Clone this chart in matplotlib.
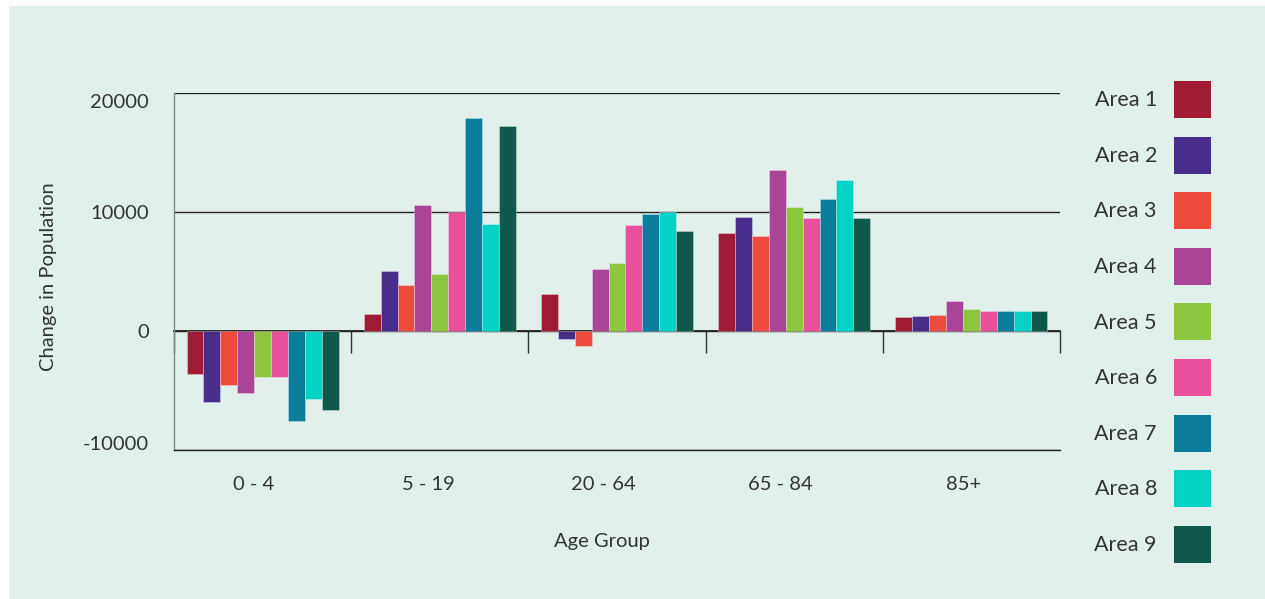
import numpy as np
import matplotlib.pyplot as plt
from matplotlib.patches import Rectangle
from matplotlib.transforms import ScaledTranslation

# ==============================
# Data
# ==============================
age_groups = ["0 - 4", "5 - 19", "20 - 64", "65 - 84", "85+"]
areas = ["Area 1", "Area 2", "Area 3", "Area 4", "Area 5",
         "Area 6", "Area 7", "Area 8", "Area 9"]

area_1 = [-3600, 1450, 3150, 8200, 1180]
area_2 = [-5950, 5050, -700, 9600, 1260]
area_3 = [-4550, 3850, -1250, 8000, 1370]
area_4 = [-5250, 10550, 5200, 13500, 2480]
area_5 = [-3900, 4750, 5750, 10400, 1880]
area_6 = [-3850, 10000, 8900, 9500, 1680]
area_7 = [-7550, 17900, 9850, 11100, 1680]
area_8 = [-5750, 8950, 10000, 12700, 1680]
area_9 = [-6650, 17200, 8400, 9500, 1680]

series = [area_1, area_2, area_3, area_4, area_5,
          area_6, area_7, area_8, area_9]

colors = ["#a01c35", "#482d8b", "#ef4b3c", "#a94496", "#8cc63f",
          "#ea4f9c", "#0a7d9a", "#03d2c4", "#10584c"]

# ==============================
# Style
# ==============================
plt.rcParams["font.family"] = ["Lato", "DejaVu Sans"]
plt.rcParams["font.size"] = 14.5
plt.rcParams["axes.unicode_minus"] = False
TXT = "#333333"
BG = "#e2f0eb"

fig = plt.figure(figsize=(12.65, 5.99), dpi=100, facecolor="white")
fig.patches.append(Rectangle((9 / 1265, 0), 1 - 9 / 1265, 1 - 6 / 599,
                             transform=fig.transFigure, facecolor=BG,
                             edgecolor="none", zorder=-10))

ax = fig.add_axes([174 / 1265, 1 - 450 / 599, 886 / 1265, 357 / 599])
ax.set_facecolor("none")

x = np.arange(len(age_groups))
n = len(series)
bar_w = 0.0953
for i, (vals, name, col) in enumerate(zip(series, areas, colors)):
    offs = (i - (n - 1) / 2) * bar_w
    ax.bar(x + offs, vals, width=bar_w, color=col, label=name,
           edgecolor=(1, 1, 1, 0.35), linewidth=0.6, zorder=3)

ax.set_xlim(-0.5, len(age_groups) - 0.5)
ax.set_ylim(-10000, 20000)

# horizontal rules
ax.set_yticks([-10000, 0, 10000, 20000])
ax.yaxis.grid(True, color="#222222", linewidth=1.0, zorder=1)
ax.set_axisbelow(True)

for s in ["top", "right"]:
    ax.spines[s].set_visible(False)
ax.spines["left"].set_color("#888888")
ax.spines["left"].set_linewidth(1.0)
ax.spines["bottom"].set_color("#222222")
ax.spines["bottom"].set_linewidth(1.0)

ax.tick_params(axis="y", length=0, pad=18, labelcolor=TXT, labelsize=14.5)
ax.set_xticks(x)
ax.set_xticklabels(age_groups)
ax.tick_params(axis="x", length=0, pad=19, labelcolor=TXT, labelsize=14.5)

# zero line with category separators
zero_ax = ax.secondary_xaxis(1 / 3)
zero_ax.set_xticks(np.arange(len(age_groups) + 1) - 0.5)
zero_ax.tick_params(axis="x", direction="out", length=15.5, width=1.0,
                    color="#333333", labelbottom=False, labeltop=False)
zero_ax.spines["bottom"].set_color("#111111")
zero_ax.spines["bottom"].set_linewidth(1.2)
zero_ax.spines["top"].set_visible(False)

ax.set_ylabel("Change in Population", color=TXT, fontsize=14.5)
ax.yaxis.set_label_coords(-0.132, 0.486)
ax.set_xlabel("Age Group", color=TXT, fontsize=14.5)
ax.xaxis.set_label_coords(0.483, -0.232)

fs = 15.5
px = fs * 100 / 72
hh = (37 / px - 0.245) / 0.65
leg = fig.legend(loc="upper right", bbox_to_anchor=(1211 / 1265, 1 - 81 / 599),
                 frameon=False, markerfirst=False, fontsize=fs,
                 handlelength=37 / px, handleheight=hh,
                 labelspacing=(55.6 - 37) / px, handletextpad=17 / px,
                 borderpad=0, borderaxespad=0)
for t in leg.get_texts():
    t.set_color(TXT)
for h in leg.legend_handles:
    h.set_edgecolor("none")

# keep the end labels of the value axis inside the plot band
fig.canvas.draw()
ylabels = ax.get_yticklabels()
ylabels[0].set_transform(ylabels[0].get_transform()
                         + ScaledTranslation(0, 7 / 100, fig.dpi_scale_trans))
ylabels[-1].set_transform(ylabels[-1].get_transform()
                          + ScaledTranslation(0, -7.5 / 100, fig.dpi_scale_trans))

# category labels sit a little left of the category centre
renderer = fig.canvas.get_renderer()
for lab in ax.get_xticklabels():
    w = lab.get_window_extent(renderer).width
    lab.set_transform(lab.get_transform()
                      + ScaledTranslation(-0.21 * w / 100, 0, fig.dpi_scale_trans))

fig.savefig("out.png", dpi=100, facecolor="white")
